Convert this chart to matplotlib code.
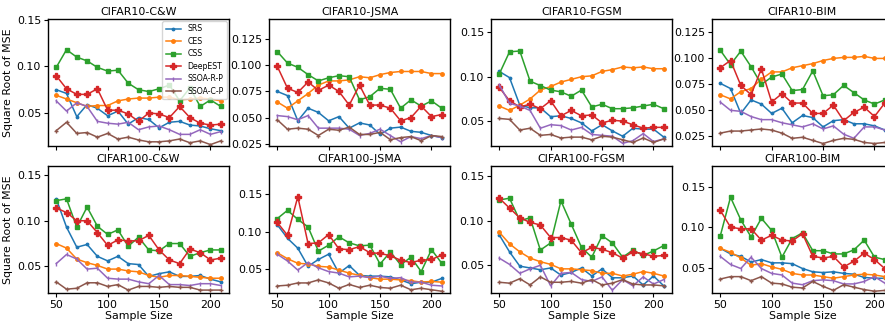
import matplotlib
matplotlib.use("Agg")
import matplotlib.pyplot as plt
from matplotlib.ticker import MultipleLocator

# ------------------ DATA ------------------
sample_sizes = [50, 60, 70, 80, 90, 100, 110, 120, 130, 140, 150, 160, 170, 180, 190, 200, 210]
methods = ["SRS", "CES", "CSS", "DeepEST", "SSOA-R-P", "SSOA-C-P"]
titles = ["CIFAR10-C&W", "CIFAR10-JSMA", "CIFAR10-FGSM", "CIFAR10-BIM",
          "CIFAR100-C&W", "CIFAR100-JSMA", "CIFAR100-FGSM", "CIFAR100-BIM"]

c10_cw = {
    "SRS": [0.075, 0.071, 0.046, 0.059, 0.055, 0.047, 0.052, 0.038, 0.045, 0.043, 0.034, 0.040, 0.041, 0.037, 0.036, 0.033, 0.031],
    "CES": [0.069, 0.065, 0.061, 0.057, 0.058, 0.058, 0.063, 0.065, 0.066, 0.066, 0.067, 0.067, 0.064, 0.065, 0.066, 0.065, 0.063],
    "CSS": [0.099, 0.118, 0.110, 0.106, 0.099, 0.095, 0.096, 0.082, 0.075, 0.073, 0.076, 0.080, 0.063, 0.077, 0.057, 0.064, 0.057],
    "DeepEST": [0.090, 0.076, 0.070, 0.070, 0.076, 0.053, 0.053, 0.049, 0.041, 0.050, 0.049, 0.045, 0.057, 0.045, 0.039, 0.037, 0.038],
    "SSOA-R-P": [0.063, 0.052, 0.061, 0.057, 0.041, 0.039, 0.038, 0.040, 0.032, 0.035, 0.036, 0.032, 0.027, 0.027, 0.032, 0.027, 0.030],
    "SSOA-C-P": [0.031, 0.040, 0.028, 0.029, 0.024, 0.028, 0.022, 0.024, 0.021, 0.019, 0.019, 0.020, 0.022, 0.018, 0.020, 0.016, 0.020],
}
c10_jsma = {
    "SRS": [0.075, 0.071, 0.047, 0.059, 0.055, 0.047, 0.051, 0.040, 0.045, 0.043, 0.034, 0.040, 0.041, 0.037, 0.036, 0.033, 0.031],
    "CES": [0.065, 0.059, 0.066, 0.073, 0.081, 0.085, 0.085, 0.086, 0.089, 0.088, 0.091, 0.093, 0.094, 0.094, 0.094, 0.092, 0.092],
    "CSS": [0.113, 0.102, 0.098, 0.091, 0.085, 0.088, 0.090, 0.089, 0.067, 0.070, 0.078, 0.077, 0.059, 0.067, 0.061, 0.066, 0.059],
    "DeepEST": [0.099, 0.078, 0.074, 0.084, 0.076, 0.081, 0.075, 0.062, 0.081, 0.062, 0.062, 0.059, 0.047, 0.050, 0.061, 0.051, 0.053],
    "SSOA-R-P": [0.052, 0.051, 0.048, 0.052, 0.040, 0.040, 0.040, 0.039, 0.033, 0.035, 0.039, 0.033, 0.027, 0.032, 0.030, 0.033, 0.031],
    "SSOA-C-P": [0.048, 0.039, 0.040, 0.039, 0.033, 0.039, 0.038, 0.041, 0.034, 0.034, 0.036, 0.029, 0.031, 0.032, 0.028, 0.033, 0.032],
}
c10_fgsm = {
    "SRS": [0.106, 0.099, 0.068, 0.065, 0.065, 0.055, 0.056, 0.053, 0.048, 0.039, 0.046, 0.039, 0.033, 0.042, 0.041, 0.041, 0.032],
    "CES": [0.067, 0.062, 0.068, 0.075, 0.085, 0.089, 0.094, 0.097, 0.100, 0.101, 0.106, 0.108, 0.111, 0.110, 0.111, 0.109, 0.109],
    "CSS": [0.103, 0.128, 0.129, 0.095, 0.090, 0.085, 0.083, 0.078, 0.085, 0.066, 0.069, 0.064, 0.064, 0.065, 0.067, 0.069, 0.064],
    "DeepEST": [0.088, 0.073, 0.066, 0.069, 0.064, 0.073, 0.056, 0.062, 0.056, 0.057, 0.048, 0.051, 0.050, 0.046, 0.042, 0.043, 0.043],
    "SSOA-R-P": [0.091, 0.070, 0.067, 0.062, 0.042, 0.046, 0.045, 0.040, 0.043, 0.035, 0.034, 0.033, 0.025, 0.028, 0.036, 0.027, 0.030],
    "SSOA-C-P": [0.053, 0.052, 0.040, 0.042, 0.034, 0.035, 0.031, 0.032, 0.032, 0.029, 0.033, 0.032, 0.029, 0.026, 0.031, 0.026, 0.030],
}
c10_bim = {
    "SRS": [0.076, 0.071, 0.047, 0.060, 0.056, 0.047, 0.052, 0.038, 0.045, 0.043, 0.034, 0.040, 0.041, 0.037, 0.037, 0.035, 0.031],
    "CES": [0.065, 0.061, 0.068, 0.071, 0.080, 0.087, 0.087, 0.091, 0.093, 0.095, 0.098, 0.100, 0.101, 0.101, 0.102, 0.100, 0.100],
    "CSS": [0.108, 0.094, 0.107, 0.092, 0.075, 0.082, 0.085, 0.069, 0.070, 0.088, 0.064, 0.065, 0.074, 0.067, 0.060, 0.056, 0.060],
    "DeepEST": [0.091, 0.098, 0.074, 0.065, 0.090, 0.058, 0.066, 0.057, 0.057, 0.047, 0.047, 0.055, 0.040, 0.048, 0.053, 0.044, 0.057],
    "SSOA-R-P": [0.058, 0.050, 0.049, 0.044, 0.041, 0.041, 0.038, 0.036, 0.034, 0.037, 0.032, 0.035, 0.027, 0.023, 0.034, 0.034, 0.031],
    "SSOA-C-P": [0.028, 0.030, 0.030, 0.031, 0.032, 0.031, 0.028, 0.023, 0.024, 0.021, 0.018, 0.021, 0.023, 0.022, 0.019, 0.018, 0.019],
}
c100_cw = {
    "SRS": [0.124, 0.093, 0.071, 0.074, 0.061, 0.056, 0.061, 0.053, 0.052, 0.039, 0.042, 0.044, 0.039, 0.039, 0.040, 0.036, 0.033],
    "CES": [0.075, 0.070, 0.058, 0.054, 0.051, 0.047, 0.047, 0.045, 0.044, 0.040, 0.038, 0.040, 0.040, 0.039, 0.038, 0.037, 0.037],
    "CSS": [0.122, 0.124, 0.093, 0.115, 0.094, 0.085, 0.090, 0.072, 0.082, 0.068, 0.067, 0.075, 0.075, 0.061, 0.065, 0.068, 0.068],
    "DeepEST": [0.114, 0.109, 0.100, 0.100, 0.087, 0.073, 0.079, 0.078, 0.078, 0.084, 0.068, 0.057, 0.053, 0.069, 0.065, 0.057, 0.059],
    "SSOA-R-P": [0.053, 0.063, 0.058, 0.047, 0.048, 0.037, 0.036, 0.036, 0.033, 0.031, 0.040, 0.030, 0.030, 0.029, 0.031, 0.031, 0.029],
    "SSOA-C-P": [0.033, 0.025, 0.026, 0.032, 0.032, 0.028, 0.030, 0.024, 0.028, 0.028, 0.027, 0.028, 0.027, 0.027, 0.024, 0.024, 0.024],
}
c100_jsma = {
    "SRS": [0.109, 0.091, 0.078, 0.054, 0.063, 0.070, 0.045, 0.055, 0.042, 0.041, 0.041, 0.040, 0.036, 0.031, 0.033, 0.033, 0.038],
    "CES": [0.072, 0.064, 0.058, 0.057, 0.054, 0.053, 0.049, 0.045, 0.042, 0.039, 0.037, 0.037, 0.036, 0.035, 0.033, 0.034, 0.033],
    "CSS": [0.117, 0.128, 0.116, 0.106, 0.074, 0.082, 0.093, 0.085, 0.081, 0.082, 0.057, 0.073, 0.056, 0.066, 0.047, 0.076, 0.058],
    "DeepEST": [0.112, 0.095, 0.146, 0.084, 0.085, 0.096, 0.077, 0.076, 0.080, 0.072, 0.071, 0.068, 0.062, 0.059, 0.062, 0.063, 0.069],
    "SSOA-R-P": [0.070, 0.061, 0.049, 0.059, 0.052, 0.047, 0.045, 0.040, 0.041, 0.039, 0.041, 0.038, 0.039, 0.033, 0.033, 0.029, 0.028],
    "SSOA-C-P": [0.028, 0.029, 0.032, 0.032, 0.036, 0.032, 0.025, 0.030, 0.026, 0.029, 0.026, 0.025, 0.029, 0.023, 0.025, 0.023, 0.021],
}
c100_fgsm = {
    "SRS": [0.084, 0.065, 0.049, 0.047, 0.045, 0.047, 0.039, 0.042, 0.047, 0.038, 0.046, 0.036, 0.036, 0.038, 0.028, 0.038, 0.027],
    "CES": [0.087, 0.074, 0.065, 0.058, 0.054, 0.051, 0.046, 0.046, 0.045, 0.044, 0.041, 0.041, 0.038, 0.040, 0.043, 0.041, 0.038],
    "CSS": [0.123, 0.125, 0.100, 0.103, 0.067, 0.075, 0.122, 0.096, 0.070, 0.059, 0.083, 0.075, 0.059, 0.067, 0.061, 0.066, 0.072],
    "DeepEST": [0.125, 0.114, 0.103, 0.098, 0.095, 0.081, 0.081, 0.078, 0.064, 0.070, 0.068, 0.064, 0.058, 0.065, 0.063, 0.060, 0.061],
    "SSOA-R-P": [0.058, 0.051, 0.041, 0.046, 0.050, 0.027, 0.041, 0.042, 0.034, 0.032, 0.037, 0.022, 0.034, 0.027, 0.037, 0.029, 0.034],
    "SSOA-C-P": [0.031, 0.030, 0.035, 0.028, 0.037, 0.031, 0.031, 0.032, 0.030, 0.034, 0.028, 0.030, 0.034, 0.029, 0.028, 0.028, 0.027],
}
c100_bim = {
    "SRS": [0.074, 0.067, 0.064, 0.057, 0.060, 0.056, 0.056, 0.055, 0.049, 0.045, 0.044, 0.045, 0.043, 0.042, 0.038, 0.037, 0.037],
    "CES": [0.074, 0.069, 0.062, 0.053, 0.055, 0.051, 0.048, 0.043, 0.041, 0.041, 0.039, 0.037, 0.039, 0.041, 0.042, 0.041, 0.039],
    "CSS": [0.089, 0.137, 0.109, 0.088, 0.111, 0.096, 0.063, 0.086, 0.093, 0.071, 0.071, 0.067, 0.067, 0.072, 0.084, 0.063, 0.060],
    "DeepEST": [0.121, 0.100, 0.098, 0.098, 0.084, 0.090, 0.084, 0.083, 0.092, 0.064, 0.062, 0.064, 0.051, 0.058, 0.068, 0.060, 0.049],
    "SSOA-R-P": [0.064, 0.054, 0.049, 0.063, 0.049, 0.043, 0.041, 0.031, 0.029, 0.034, 0.035, 0.034, 0.030, 0.030, 0.033, 0.039, 0.031],
    "SSOA-C-P": [0.036, 0.039, 0.039, 0.034, 0.039, 0.031, 0.030, 0.026, 0.025, 0.033, 0.027, 0.022, 0.029, 0.026, 0.023, 0.021, 0.022],
}
panels = [c10_cw, c10_jsma, c10_fgsm, c10_bim, c100_cw, c100_jsma, c100_fgsm, c100_bim]

# ------------------ STYLE ------------------
colors = ["#1f77b4", "#ff7f0e", "#2ca02c", "#d62728", "#9467bd", "#8c564b"]
markers = [".", "o", "s", "P", "|", "+"]
msizes = [3.5, 2.5, 3.3, 4, 3.5, 3.5]
ylims = [(0.0145, 0.151), (0.023, 0.144), (0.022, 0.165), (0.0156, 0.138),
         (0.0208, 0.160), (0.0187, 0.1866), (0.019, 0.161), (0.0188, 0.1755)]
ysteps = [0.05, 0.025, 0.05, 0.025, 0.05, 0.05, 0.05, 0.05]

FS = 7.9
W, H = 885, 323
fig = plt.figure(figsize=(W / 100, H / 100), dpi=100)

lefts = [48, 269, 491, 712]
axw = 181
axh = 127
tops = [19, 166]

for i, data in enumerate(panels):
    row, col = divmod(i, 4)
    ax = fig.add_axes([lefts[col] / W, (H - tops[row] - axh) / H, axw / W, axh / H])
    for j, m in enumerate(methods):
        ax.plot(sample_sizes, data[m], color=colors[j], marker=markers[j],
                markersize=msizes[j], linewidth=1.1, label=m)
    ax.set_title(titles[i], fontsize=FS, pad=3)
    ax.set_ylim(*ylims[i])
    ax.set_xlim(42, 218)
    ax.yaxis.set_major_locator(MultipleLocator(ysteps[i]))
    ax.set_xticks([50, 100, 150, 200])
    ax.tick_params(labelsize=FS, length=3, width=0.8, pad=2)
    for s in ax.spines.values():
        s.set_linewidth(1.0)
    if row == 0:
        ax.tick_params(labelbottom=False)
    else:
        ax.set_xlabel("Sample Size", fontsize=FS, labelpad=1)
    if col == 0:
        ax.set_ylabel("Square Root of MSE", fontsize=FS, labelpad=3)
    if i == 0:
        ax.legend(loc="upper right", fontsize=5.6, borderaxespad=0.3,
                  handlelength=2.0, labelspacing=0.45, borderpad=0.4)

fig.savefig("out.png", dpi=100)
